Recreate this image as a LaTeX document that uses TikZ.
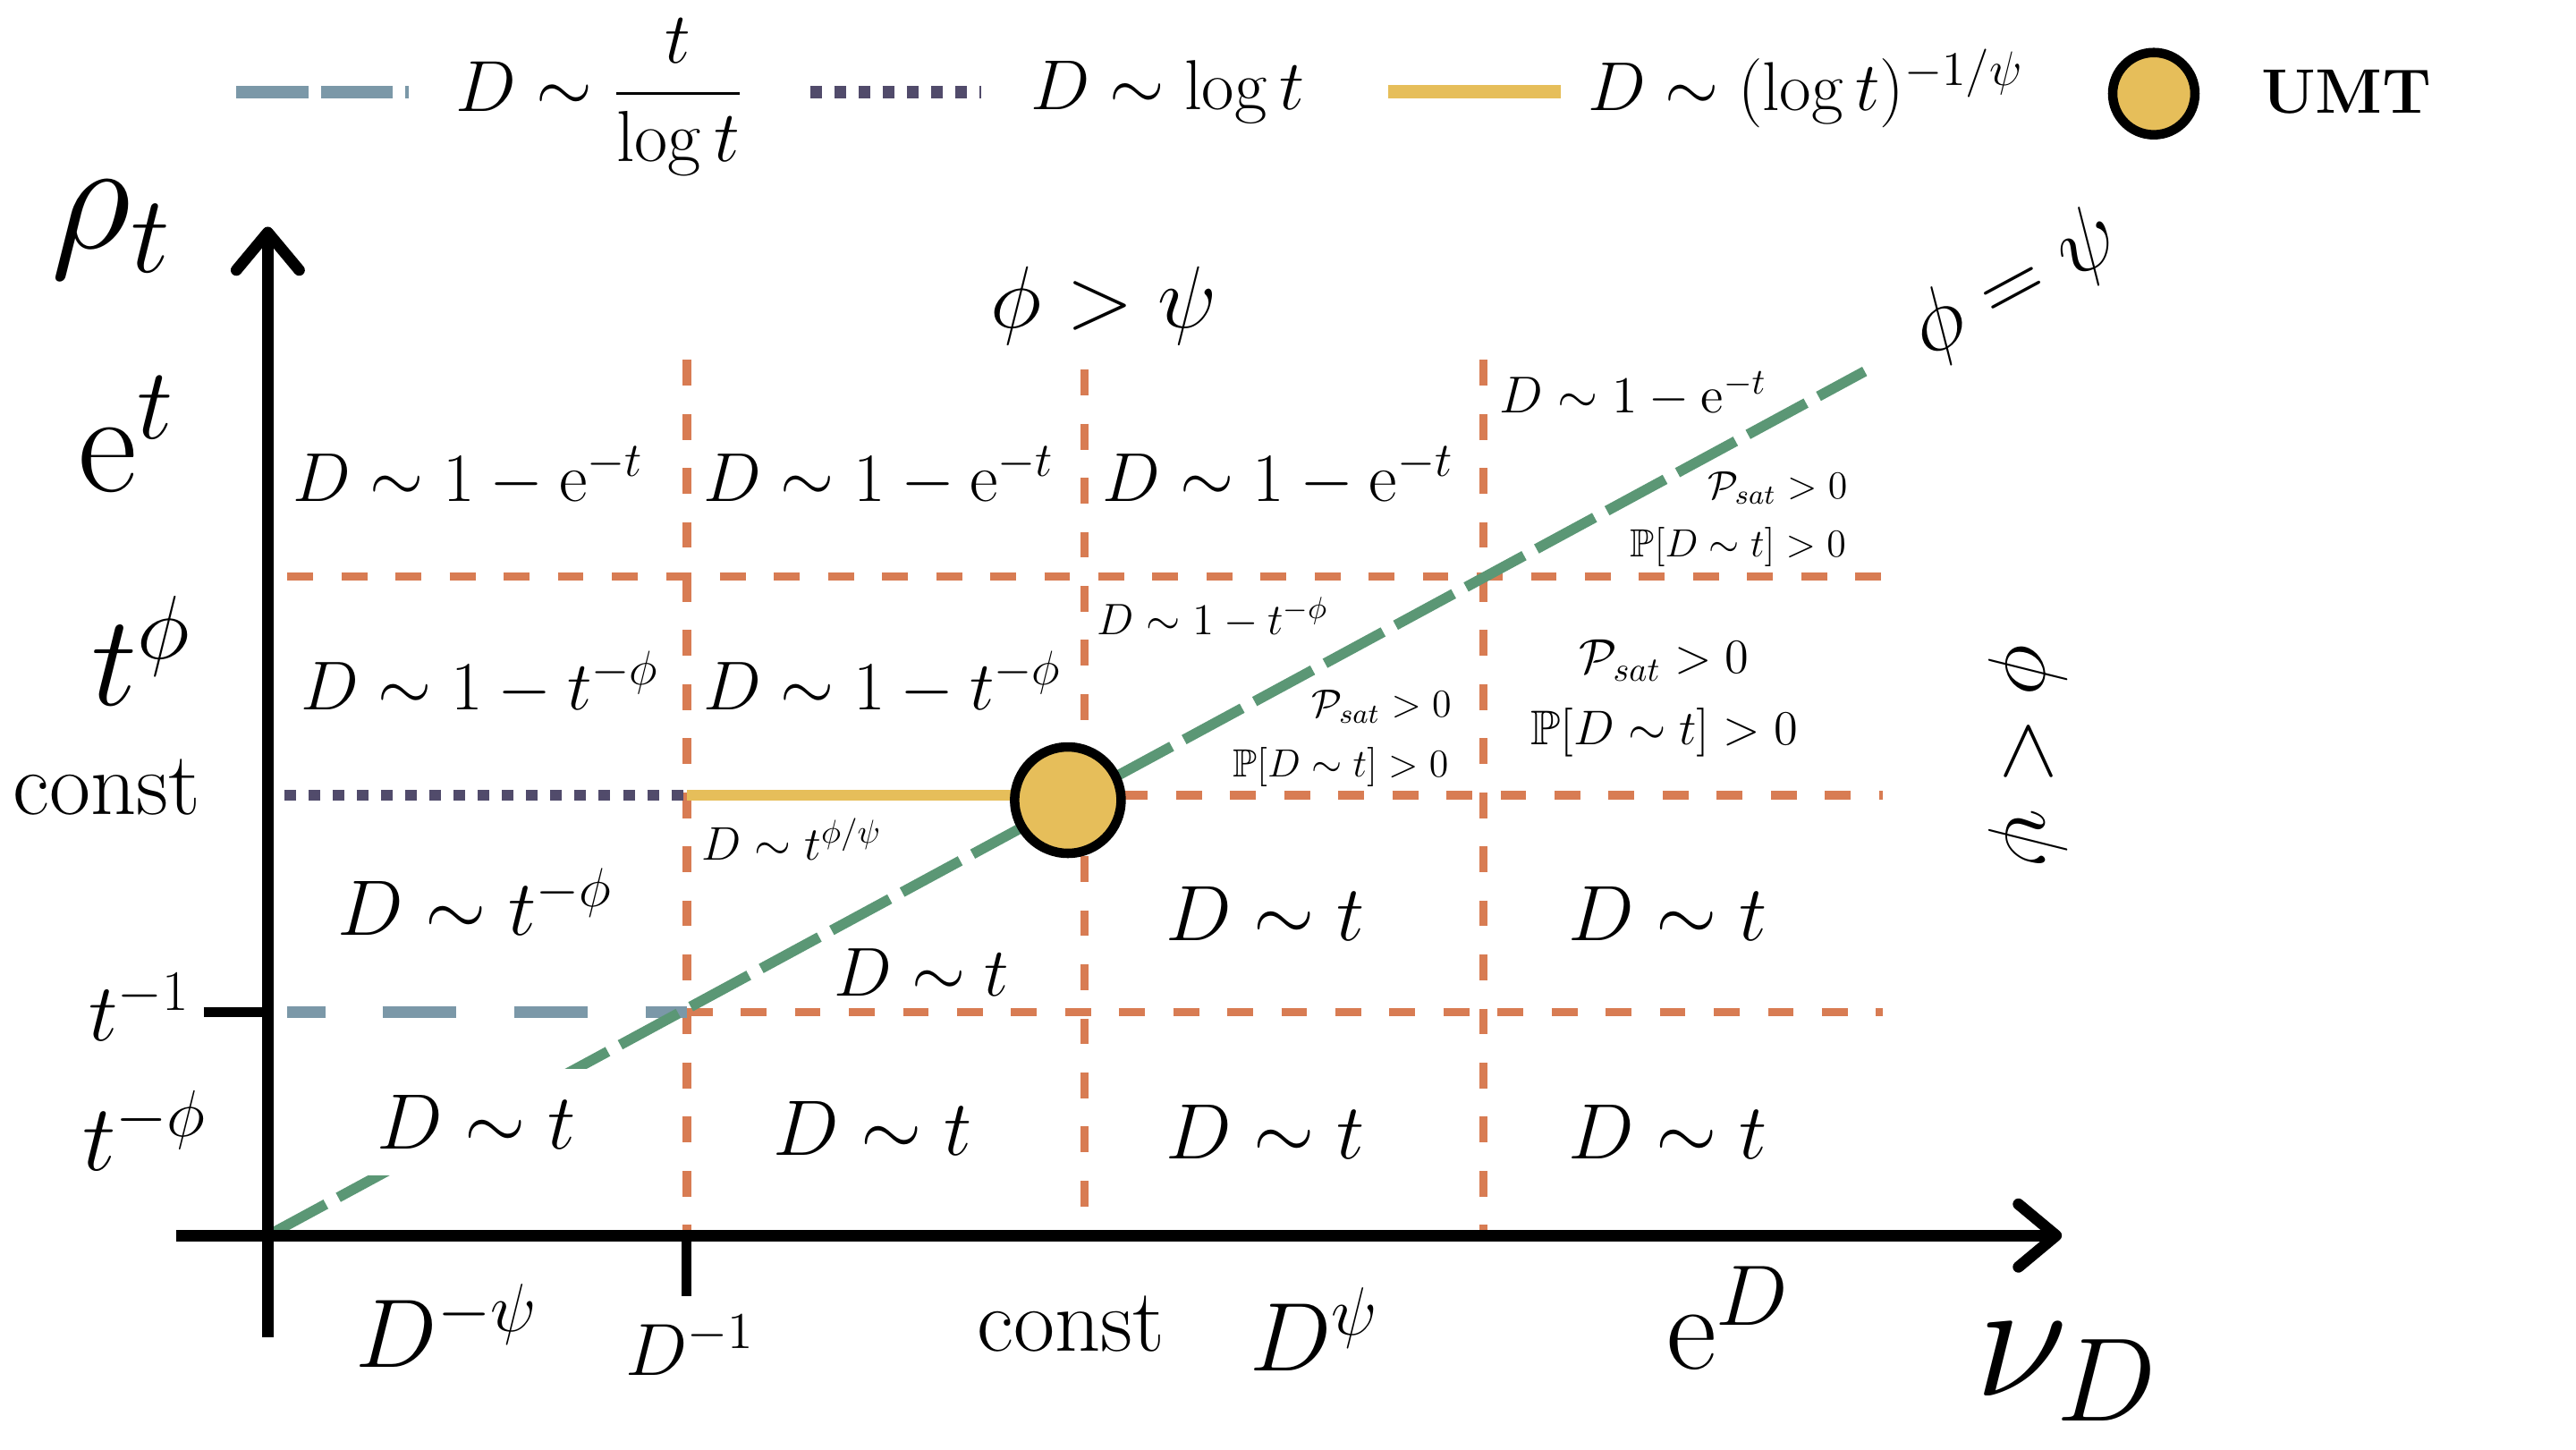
\documentclass[tikz,border=0pt]{standalone}
\usepackage{fix-cm}
\usepackage{amsmath,amssymb}
\usetikzlibrary{arrows.meta}
\definecolor{gridorange}{RGB}{216,124,83}
\definecolor{diaggreen}{RGB}{91,151,117}
\definecolor{slateline}{RGB}{123,152,168}
\definecolor{dotpurple}{RGB}{81,75,107}
\definecolor{umtyellow}{RGB}{230,190,90}
\newcommand{\fsz}[1]{\fontsize{#1}{#1}\selectfont}
\begin{document}
\begin{tikzpicture}[x=0.018367cm, y=-0.018367cm,
  gridline/.style={gridorange, line width=2.7pt, dash pattern=on 8.2pt off 9pt},
  diagline/.style={diaggreen, line width=3.3pt, dash pattern=on 21pt off 4.5pt},
  slatedash/.style={slateline, line width=3.7pt, dash pattern=on 23.5pt off 18.3pt, dash phase=11.5pt},
  slatelegend/.style={slateline, line width=4pt, dash pattern=on 22.8pt off 4pt},
  purpledot/.style={dotpurple, line width=3.4pt, dash pattern=on 3.7pt off 4pt},
  purplelegend/.style={dotpurple, line width=4pt, dash pattern=on 3.7pt off 4pt},
  yellowline/.style={umtyellow, line width=3.5pt},
  yellowlegend/.style={umtyellow, line width=4.2pt},
  axisline/.style={black, line width=3.6pt},
  axisarrow/.style={axisline, -{Straight Barb[length=12pt,width=20pt,round]}},
  tickline/.style={black, line width=3.2pt},
  umtdot/.style={circle, draw=black, fill=umtyellow, line width=3pt, inner sep=0pt},
  lab/.style={inner sep=0pt, anchor=center},
]
\useasboundingbox (0,0) rectangle (1568,882);

% ---------- coordinates ----------
\coordinate (O) at (163,752);
\coordinate (ytop) at (163,138);
\coordinate (ybot) at (163,814);
\coordinate (xleft) at (107,752);
\coordinate (xright) at (1255,752);
\coordinate (v1t) at (418,219);
\coordinate (v1b) at (418,752);
\coordinate (v2t) at (660,225);
\coordinate (v2b) at (660,752);
\coordinate (v3t) at (903,219);
\coordinate (v3b) at (903,752);
\coordinate (h1l) at (175,351);
\coordinate (h1r) at (1146,351);
\coordinate (h2l) at (173,484);
\coordinate (h2m) at (418,484);
\coordinate (h2s) at (683,484);
\coordinate (h2r) at (1146,484);
\coordinate (h3l) at (175,616);
\coordinate (h3m) at (418,616);
\coordinate (h3r) at (1146,616);
\coordinate (gend) at (1135,226);
\coordinate (tk1a) at (124,616);
\coordinate (tk1b) at (163,616);
\coordinate (tk2a) at (418,752);
\coordinate (tk2b) at (418,789);

% ---------- grid ----------
\draw[gridline] (v1t) -- (v1b);
\draw[gridline] (v2t) -- (v2b);
\draw[gridline] (v3t) -- (v3b);
\draw[gridline] (h1l) -- (h1r);
\draw[gridline] (h3m) -- (h3r);
\draw[gridline] (h2s) -- (h2r);
\draw[slatedash] (h3l) -- (h3m);
\draw[purpledot] (h2l) -- (h2m);
\coordinate (umtc) at (650,487);
\draw[yellowline] (h2m) -- (umtc |- h2m);
\draw[diagline] (O) -- (gend);

\node[lab, fill=white, inner sep=8.4pt, font=\fsz{25}] (c14) at (290,683) {$D\sim t$};
\node[umtdot, minimum size=1.19cm] (umt) at (umtc) {};

% ---------- cell labels ----------
\node[lab, font=\fsz{22}] (c11) at (285,290) {$D\sim 1-\mathrm{e}^{-t}$};
\node[lab, font=\fsz{22}] (c21) at (535,290) {$D\sim 1-\mathrm{e}^{-t}$};
\node[lab, font=\fsz{22}] (c31) at (778,290) {$D\sim 1-\mathrm{e}^{-t}$};
\node[lab, font=\fsz{16.5}] (c41) at (994,240) {$D\sim 1-\mathrm{e}^{-t}$};
\node[lab, font=\fsz{12.5}] (c41p) at (1082,297) {$\mathcal{P}_{sat}>0$};
\node[lab, font=\fsz{12.5}] (c41q) at (1058,333) {$\mathbb{P}[D\sim t]>0$};

\node[lab, font=\fsz{22}] (c12) at (292,416) {$D\sim 1-t^{-\phi}$};
\node[lab, font=\fsz{22}] (c22) at (537,416) {$D\sim 1-t^{-\phi}$};
\node[lab, font=\fsz{14}] (c32) at (738,376) {$D\sim 1-t^{-\phi}$};
\node[lab, font=\fsz{12.5}] (c32p) at (841,430) {$\mathcal{P}_{sat}>0$};
\node[lab, font=\fsz{12.5}] (c32q) at (816,467) {$\mathbb{P}[D\sim t]>0$};
\node[lab, font=\fsz{15.5}] (c42p) at (1013,402) {$\mathcal{P}_{sat}>0$};
\node[lab, font=\fsz{15.5}] (c42q) at (1013,446) {$\mathbb{P}[D\sim t]>0$};

\node[lab, font=\fsz{25}] (c13) at (289,549) {$D\sim t^{-\phi}$};
\node[lab, font=\fsz{15}] (c23a) at (482,511) {$D\sim t^{\phi/\psi}$};
\node[lab, font=\fsz{22}] (c23b) at (561,592) {$D\sim t$};
\node[lab, font=\fsz{25}] (c33) at (770,556) {$D\sim t$};
\node[lab, font=\fsz{25}] (c43) at (1015,556) {$D\sim t$};

\node[lab, font=\fsz{25}] (c24) at (531,687) {$D\sim t$};
\node[lab, font=\fsz{25}] (c34) at (770,689) {$D\sim t$};
\node[lab, font=\fsz{25}] (c44) at (1015,689) {$D\sim t$};

% ---------- region labels ----------
\node[lab, font=\fsz{28}] (phigt) at (672,186) {$\phi>\psi$};
\node[lab, font=\fsz{28}, rotate=28.3] (phieq) at (1227,174) {$\phi=\psi$};
\node[lab, font=\fsz{28}, rotate=-90] (philt) at (1235,460) {$\phi<\psi$};

% ---------- axes ----------
\draw[axisline] (xleft) -- (O);
\draw[axisarrow] (O) -- (xright);
\draw[axisarrow] (ybot) -- (ytop);
\draw[tickline] (tk1a) -- (tk1b);
\draw[tickline] (tk2a) -- (tk2b);

% ---------- axis labels ----------
\node[lab, font=\fsz{50}] (rho) at (68,140) {$\rho_t$};
\node[lab, font=\fsz{46}] (et) at (77,264) {$\mathrm{e}^t$};
\node[lab, font=\fsz{41}] (tphi) at (86,396) {$t^{\phi}$};
\node[lab, font=\fsz{28.5}] (constL) at (65,479) {const};
\node[lab, font=\fsz{26}] (tinv) at (85,613) {$t^{-1}$};
\node[lab, font=\fsz{30}] (tmphi) at (88,688) {$t^{-\phi}$};
\node[lab, font=\fsz{31}] (Dmpsi) at (272,807) {$D^{-\psi}$};
\node[lab, font=\fsz{23.5}] (Dinv) at (420,819) {$D^{-1}$};
\node[lab, font=\fsz{28.5}] (constB) at (652,806) {const};
\node[lab, font=\fsz{31}] (Dpsi) at (800,809) {$D^{\psi}$};
\node[lab, font=\fsz{39}] (eD) at (1052,802) {$\mathrm{e}^D$};
\node[lab, font=\fsz{54}] (nuD) at (1258,835) {$\nu_D$};

% ---------- legend ----------
\coordinate (lg1a) at (144,56);
\coordinate (lg1b) at (249,56);
\coordinate (lg2a) at (493,56);
\coordinate (lg2b) at (597,56);
\coordinate (lg3a) at (845,56);
\coordinate (lg3b) at (950,56);
\draw[slatelegend] (lg1a) -- (lg1b);
\draw[purplelegend] (lg2a) -- (lg2b);
\draw[yellowlegend] (lg3a) -- (lg3b);
\node[inner sep=0pt, anchor=west, font=\fsz{23}] (lgt1) at (277,59) {$\displaystyle D\sim\frac{t}{\log t}$};
\node[inner sep=0pt, anchor=west, font=\fsz{22.5}] (lgt2) at (627,56) {$D\sim\log t$};
\node[inner sep=0pt, anchor=west, font=\fsz{22}] (lgt3) at (966,54) {$D\sim(\log t)^{-1/\psi}$};
\node[umtdot, minimum size=0.92cm] (lgdot) at (1311,57) {};
\node[inner sep=0pt, anchor=west, font=\fsz{20}\bfseries] (lgt4) at (1376,56) {UMT};
\end{tikzpicture}
\end{document}
